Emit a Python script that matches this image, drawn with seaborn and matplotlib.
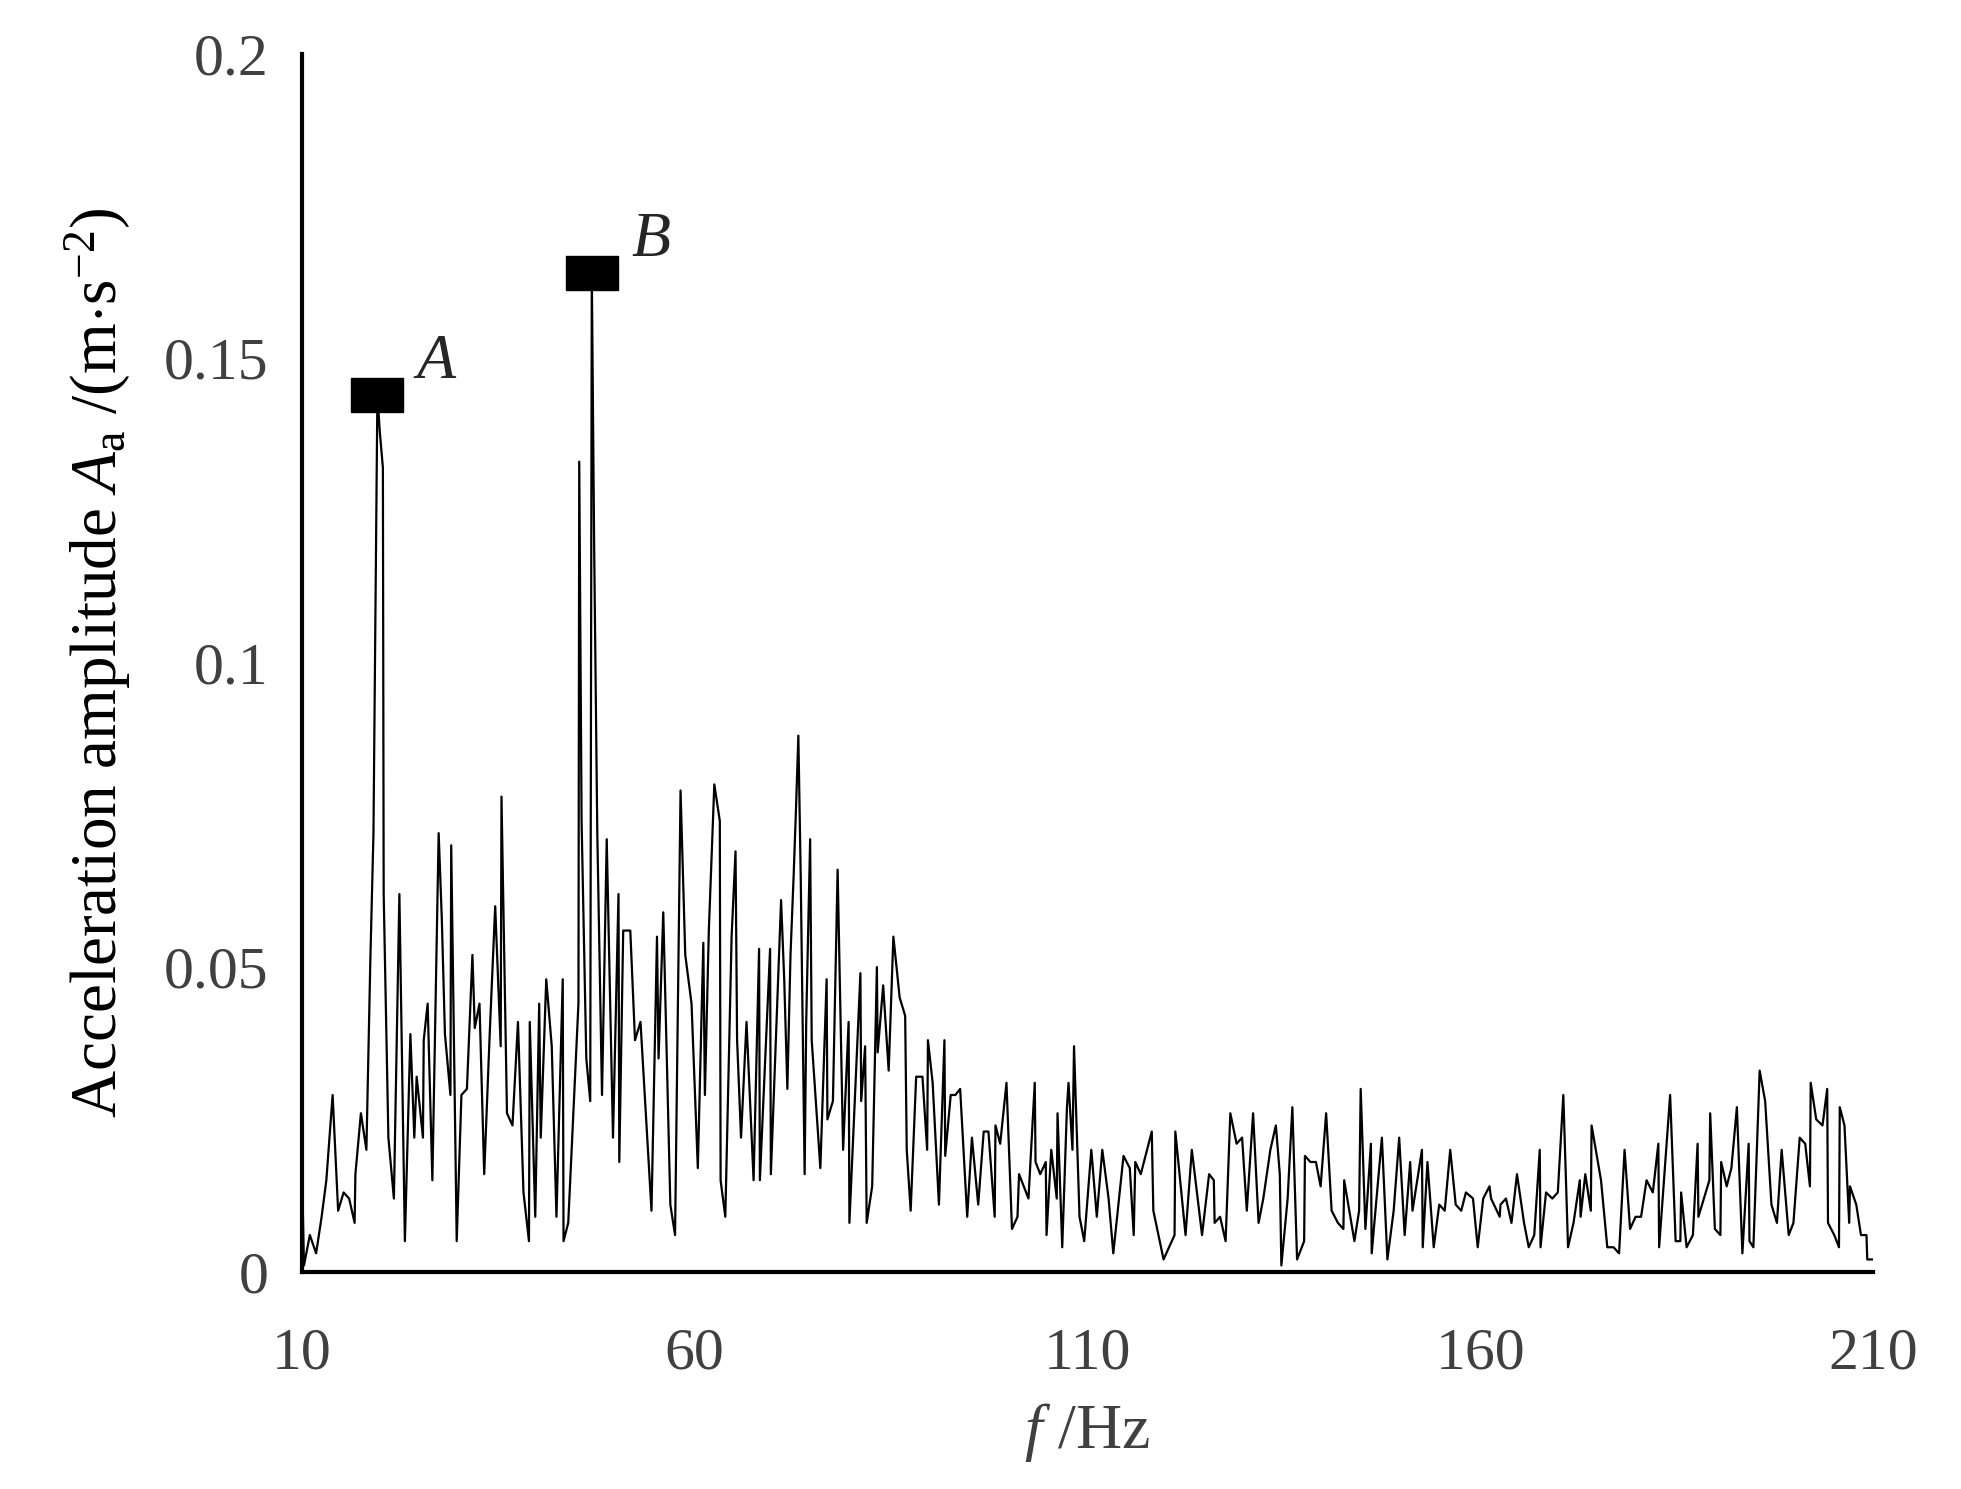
import numpy as np
import pandas as pd
import matplotlib
matplotlib.use("Agg")
import matplotlib.pyplot as plt
from matplotlib.path import Path
import seaborn as sns

freq_low = [10.0,10.25,11.0,11.8,12.5,13.1,13.9,14.6,15.3,16.0,16.7,16.8,17.5,18.2,18.7,19.1,19.6,19.9,20.3,20.4,
            21.0,21.7,22.4,23.1,23.8,24.3,24.6,25.4,25.5,26.0,26.6,27.4,27.8,28.2,28.9,29.0,29.7,30.3,31.0,31.7,
            32.0,32.6,33.2,33.9,34.6,35.3,35.4,36.1,36.8,37.5,38.2,38.9,39.0,39.7,40.2,40.4,41.1,41.8,42.4,43.2,
            43.3,43.9,45.2,45.3,45.6,46.2,46.7,46.9,47.2,47.6,48.2,48.8,49.6,50.3,50.4,50.9,51.8,52.4,53.1,54.5,
            55.2,55.4,56.0,56.9,57.5,58.2,58.8,59.6,60.4,61.1,61.3,61.8,62.5,63.2,63.3,63.9,64.7,65.2,65.4,65.9,
            66.6,67.5,68.2,68.3,69.6,69.7,71.0]
amp_low = [0.017,0.001,0.006,0.003,0.009,0.015,0.029,0.010,0.013,0.012,0.008,0.016,0.026,0.020,0.051,0.072,0.144,0.138,0.132,0.062,
           0.022,0.012,0.062,0.005,0.039,0.022,0.032,0.022,0.038,0.044,0.015,0.072,0.058,0.039,0.029,0.070,0.005,0.029,0.030,0.052,
           0.040,0.044,0.016,0.039,0.060,0.037,0.078,0.026,0.024,0.041,0.013,0.005,0.041,0.009,0.044,0.022,0.048,0.037,0.009,0.048,
           0.005,0.008,0.044,0.133,0.074,0.035,0.028,0.164,0.119,0.072,0.029,0.071,0.022,0.062,0.018,0.056,0.056,0.038,0.041,0.010,
           0.055,0.035,0.059,0.011,0.006,0.079,0.052,0.044,0.017,0.054,0.029,0.056,0.080,0.074,0.015,0.009,0.055,0.069,0.038,0.022,
           0.041,0.015,0.053,0.015,0.053,0.016,0.061]

freq_mid = [71.4,71.8,72.2,72.6,72.9,73.2,73.5,74.0,74.2,74.7,74.9,76.0,76.8,76.9,77.6,78.2,78.9,79.6,79.7,81.1,
            81.2,81.7,81.9,82.6,83.2,83.3,84.0,84.7,85.3,86.1,86.8,87.0,87.5,88.2,89.0,89.6,89.7,90.3,91.1,91.8,
            91.9,92.6,93.2,93.8,94.7,95.3,96.1,96.8,97.4,98.2,98.3,98.9,99.7,100.4,101.1,101.3,102.5,103.3,103.4,104.0,
            104.7,104.8,105.4,106.1,106.2,106.8,107.4,107.6,108.1,108.3,109.0,109.6,110.5,111.2,111.9,112.7,113.3,114.6,115.4,115.9,
            116.1,116.8,117.6,118.2,118.4,119.7,121.1,121.2,122.5,123.3,124.6,125.5,126.1,126.2,126.9,127.6,128.2,129.0,129.7,130.3,
            131.1,131.8,132.4,133.3,134.0,134.5]
amp_mid = [0.048,0.030,0.052,0.065,0.076,0.088,0.065,0.016,0.041,0.071,0.038,0.017,0.048,0.025,0.028,0.066,0.020,0.041,0.008,0.049,
           0.028,0.037,0.008,0.014,0.050,0.036,0.047,0.033,0.055,0.045,0.042,0.020,0.010,0.032,0.032,0.020,0.038,0.031,0.011,0.038,
           0.019,0.029,0.029,0.030,0.009,0.022,0.011,0.023,0.023,0.009,0.024,0.021,0.031,0.007,0.009,0.016,0.012,0.031,0.018,0.016,
           0.018,0.006,0.020,0.012,0.026,0.004,0.027,0.031,0.020,0.037,0.009,0.005,0.020,0.009,0.020,0.012,0.003,0.019,0.017,0.006,
           0.018,0.016,0.020,0.023,0.010,0.002,0.006,0.023,0.006,0.020,0.006,0.016,0.015,0.008,0.009,0.005,0.026,0.021,0.022,0.010,
           0.026,0.008,0.012,0.020,0.024,0.016]

freq_high = [134.7,135.5,136.1,136.7,137.6,137.7,138.4,139.1,139.7,140.4,141.1,141.9,142.6,142.7,144.0,144.6,144.8,145.4,146.1,146.2,
             147.5,148.2,149.0,149.7,150.4,151.1,151.4,152.6,152.7,153.3,154.1,154.8,155.5,156.2,156.9,157.6,158.2,159.1,159.7,160.4,
             161.2,161.4,162.5,162.6,163.3,164.0,164.7,165.6,166.2,166.9,167.6,167.7,168.4,169.2,169.9,170.6,171.2,171.9,172.7,172.8,
             173.4,174.1,174.2,175.4,176.2,177.0,177.7,178.4,179.1,179.8,180.5,181.2,182.0,182.7,182.8,184.2,184.9,185.5,185.6,186.3,
             187.1,187.7,187.8,189.2,189.3,189.9,190.6,190.7,191.4,192.0,192.7,193.4,194.2,194.3,194.8,195.6,196.3,197.1,197.8,198.4,
             199.3,199.9,200.7,201.4,202.0,202.1,202.8,203.6,204.2,204.3,205.1,205.7,205.8,206.4,207.0,207.1,207.9,208.5,209.2,209.3,210.0]
amp_high = [0.001,0.012,0.027,0.002,0.005,0.019,0.018,0.018,0.014,0.026,0.010,0.008,0.007,0.015,0.005,0.010,0.030,0.007,0.021,0.003,
            0.022,0.002,0.010,0.022,0.006,0.018,0.010,0.020,0.004,0.018,0.004,0.011,0.010,0.020,0.011,0.010,0.013,0.012,0.004,0.012,
            0.014,0.012,0.009,0.011,0.012,0.008,0.016,0.008,0.004,0.006,0.020,0.004,0.013,0.012,0.013,0.029,0.004,0.008,0.015,0.009,
            0.016,0.010,0.024,0.015,0.004,0.004,0.003,0.020,0.007,0.009,0.009,0.015,0.013,0.021,0.004,0.029,0.005,0.005,0.013,0.004,
            0.006,0.021,0.009,0.015,0.026,0.007,0.006,0.018,0.014,0.017,0.027,0.003,0.021,0.005,0.004,0.033,0.028,0.011,0.008,0.020,
            0.006,0.008,0.022,0.021,0.014,0.031,0.025,0.024,0.030,0.008,0.006,0.004,0.027,0.024,0.008,0.014,0.011,0.006,0.006,0.002,0.002]

peak_labels = ["A", "B"]
peak_freq = [19.6, 46.9]
peak_amp = [0.144, 0.164]

xticks = [10, 60, 110, 160, 210]
yticks = [0, 0.05, 0.1, 0.15, 0.2]
ytick_labels = ["0", "0.05", "0.1", "0.15", "0.2"]

df = pd.DataFrame({"f": freq_low + freq_mid + freq_high,
                   "a": amp_low + amp_mid + amp_high})

sns.set_style("white")
plt.rcParams["font.family"] = ["Liberation Serif", "DejaVu Serif"]
plt.rcParams["mathtext.fontset"] = "custom"
plt.rcParams["mathtext.rm"] = "Liberation Serif"
plt.rcParams["mathtext.it"] = "Liberation Serif:italic"

fig = plt.figure(figsize=(19.61, 14.89), dpi=100)
ax = fig.add_axes([0.154, 0.146, 0.801, 0.818])
sns.lineplot(data=df, x="f", y="a", sort=False, color="black", lw=1.6, ax=ax, estimator=None)

rect = Path([(-1.55, -1), (1.55, -1), (1.55, 1), (-1.55, 1), (-1.55, -1)])
ax.plot(peak_freq, peak_amp, ls="none", marker=rect, markersize=38, color="black")
for lab, fx, fy in zip(peak_labels, peak_freq, peak_amp):
    ax.text(fx + 5.0, fy + 0.0005, lab, fontsize=46, style="italic", ha="left", va="bottom")

ax.set_xlim(10, 210)
ax.set_ylim(0, 0.2)
ax.set_xticks(xticks)
ax.set_yticks(yticks)
ax.set_yticklabels(ytick_labels)
for s in ["top", "right"]:
    ax.spines[s].set_visible(False)
for s in ["left", "bottom"]:
    ax.spines[s].set_linewidth(3)
    ax.spines[s].set_color("black")
ax.tick_params(axis="y", direction="out", length=12, width=3, labelsize=43, labelcolor="#404040", pad=12)
ax.tick_params(axis="x", direction="in", length=10, width=3, labelsize=43, labelcolor="#404040", pad=40)
ax.set_xlabel(r"$f$ /Hz", fontsize=46, color="#404040", labelpad=14)
ax.set_ylabel(r"Acceleration amplitude $A_\mathrm{a}$ /(m$\cdot$s$^{-2}$)", fontsize=47, color="black", labelpad=22)

fig.savefig("out.png", dpi=100)
